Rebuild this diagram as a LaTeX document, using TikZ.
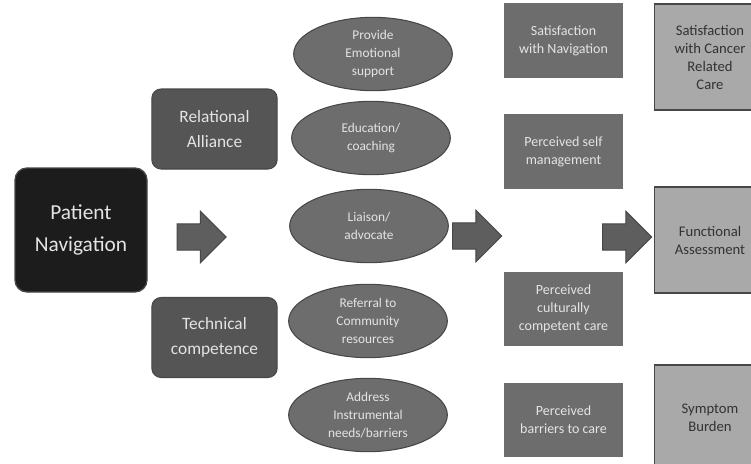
\documentclass[tikz,border=0pt]{standalone}
\usepackage{fontspec}
\setmainfont{Carlito}
\usepackage{xcolor}
\usetikzlibrary{shapes.geometric,shapes.arrows}
\definecolor{navblack}{HTML}{1C1C1C}
\definecolor{navdark}{HTML}{555555}
\definecolor{navmid}{HTML}{6D6D6D}
\definecolor{navlight}{HTML}{A9A9A9}
\definecolor{navedge}{HTML}{474747}
\definecolor{navtext}{HTML}{E4E4E4}

\begin{document}
\begin{tikzpicture}[x=0.75pt, y=-0.75pt, every node/.style={align=center, inner sep=2pt},
  navbox/.style={draw=navedge, line width=1pt, rounded corners=9pt, fill=navblack, text=navtext,
    minimum width=99pt, minimum height=93pt, font=\fontsize{16}{24}\selectfont},
  rolebox/.style={draw=navedge, line width=0.8pt, rounded corners=7pt, fill=navdark, text=navtext,
    minimum width=94pt, minimum height=60pt, font=\fontsize{13}{19}\selectfont},
  taskoval/.style={ellipse, draw=navedge, line width=0.8pt, fill=navmid, text=navtext,
    minimum width=119pt, minimum height=55pt, inner sep=0pt, font=\fontsize{10}{13.5}\selectfont},
  midbox/.style={draw=navedge!80, line width=0.8pt, fill=navmid, text=navtext,
    minimum width=89pt, minimum height=55pt, font=\fontsize{10.5}{13.5}\selectfont},
  outbox/.style={draw=navedge, line width=0.8pt, fill=navlight, text=black!80,
    minimum width=83pt, minimum height=79.5pt, font=\fontsize{11}{13.5}\selectfont},
  flowarrow/.style={single arrow, draw=navedge, line width=0.8pt, fill=navmid!110!white, inner xsep=0pt,
    inner ysep=9.4pt, single arrow head extend=9.4pt, minimum height=36.75pt}]
  \useasboundingbox (0,0) rectangle (751,464);

  % navigation and its two sides
  \node[navbox] (nav) at (81,230) {Patient\\Navigation};
  \node[rolebox] (relational) at (214.5,129) {Relational\\Alliance};
  \node[rolebox] (technical) at (214.5,337.5) {Technical\\competence};

  % navigator tasks
  \node[taskoval] (emotional) at (373,54) {Provide\\Emotional\\support};
  \node[taskoval] (education) at (371,138) {Education/\\coaching};
  \node[taskoval] (liaison) at (369,226) {Liaison/\\advocate};
  \node[taskoval] (referral) at (368,321) {Referral to\\Community\\resources};
  \node[taskoval] (barriers) at (368,415) {Address\\Instrumental\\needs/barriers};

  % short term outcomes
  \node[midbox] (satnav) at (563.5,40.5) {Satisfaction\\with Navigation};
  \node[midbox] (selfmgmt) at (563.5,151.5) {Perceived self\\management};
  \node[midbox] (cultural) at (563.5,309) {Perceived\\culturally\\competent care};
  \node[midbox] (perceived) at (563.5,420) {Perceived\\barriers to care};

  % long term outcomes
  \node[outbox] (satcare) at (710,57) {Satisfaction\\with Cancer\\Related\\Care};
  \node[outbox] (functional) at (710,240) {Functional\\Assessment};
  \node[outbox] (symptom) at (710,418) {Symptom\\Burden};

  % block arrows
  \node[flowarrow] (toroles) at (195,237) {};
  \node[flowarrow] (totasks) at (470.5,236) {};
  \node[flowarrow] (tooutcomes) at (620.5,237) {};
\end{tikzpicture}
\end{document}
